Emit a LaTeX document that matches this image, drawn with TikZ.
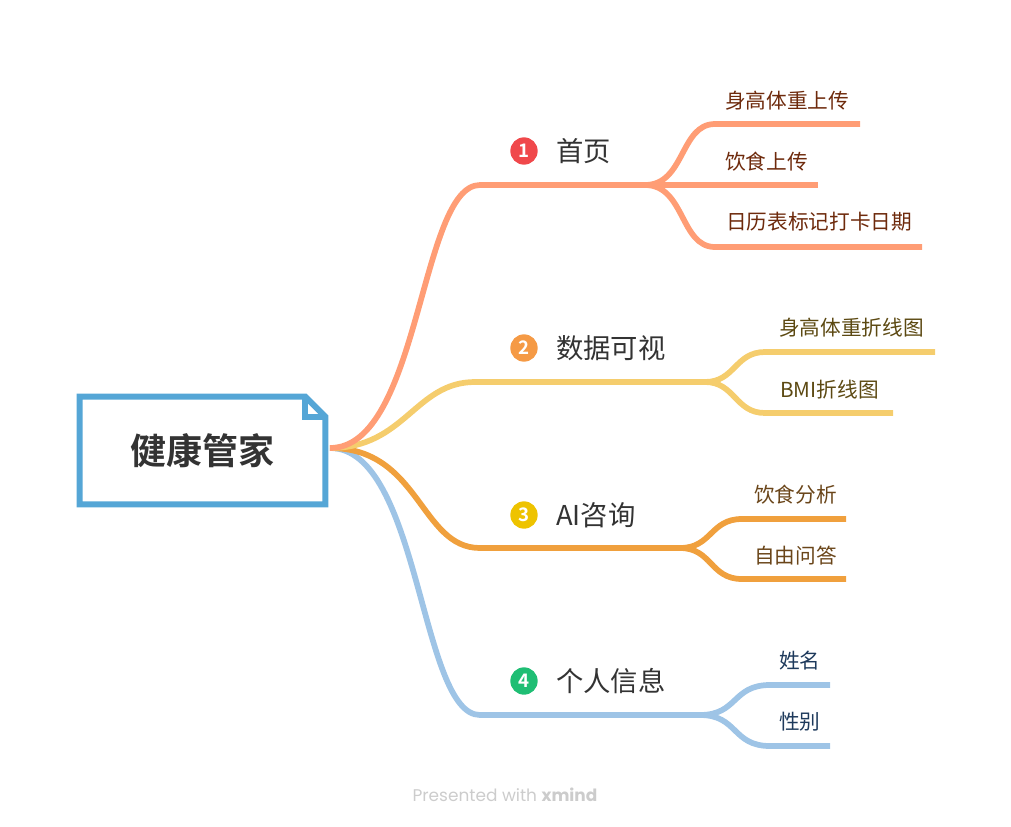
\documentclass[tikz,border=0pt]{standalone}
\usepackage{fontspec}
\setmainfont{Noto Sans CJK SC}[BoldFont={Noto Sans CJK SC Bold}]
\newfontfamily\footfont{Poppins}
\definecolor{rootblue}{HTML}{55A6D6}
\definecolor{lineA}{HTML}{FF9D75}
\definecolor{lineB}{HTML}{F5CD6D}
\definecolor{lineC}{HTML}{F0A03D}
\definecolor{lineD}{HTML}{9EC4E6}
\definecolor{dotA}{HTML}{F0484B}
\definecolor{dotB}{HTML}{F59A45}
\definecolor{dotC}{HTML}{EEC300}
\definecolor{dotD}{HTML}{1FBE74}
\definecolor{textA}{HTML}{6E2A0C}
\definecolor{textB}{HTML}{5C4912}
\definecolor{textC}{HTML}{6A4519}
\definecolor{textD}{HTML}{1E3A5C}

\begin{document}
\begin{tikzpicture}[x=0.75pt,y=-0.75pt,
    branch/.style={line width=4.3pt},
    dot/.style={circle, fill=#1, minimum size=20.5pt, inner sep=0pt, text=white, font=\bfseries\fontsize{14}{14}\selectfont},
    topic/.style={anchor=west, inner sep=0pt, text=black!80, font=\fontsize{20.5}{22}\selectfont},
    leaf/.style={anchor=west, inner sep=0pt, text=#1, font=\fontsize{15.5}{17}\selectfont}]
    \useasboundingbox (0,0) rectangle (1011,826);

    % root
    \node[minimum width=183.75pt, minimum height=80.25pt, inner sep=0pt, font=\bfseries\fontsize{27}{30}\selectfont, text=black!80] (root) at (202.5,450.5) {健康管家};
    \draw[rootblue, line width=4.5pt, line join=miter] (root.north west) -- ([xshift=-15pt]root.north east) -- ([yshift=-15pt]root.north east) -- (root.south east) -- (root.south west) -- cycle;
    \draw[rootblue, line width=4.5pt] ([xshift=-15pt]root.north east) -- ([xshift=-15pt,yshift=-15pt]root.north east) -- ([yshift=-15pt]root.north east);
    \coordinate (hub) at (330,448);

    % branch points
    \coordinate (b1) at (480,185);  \coordinate (s1) at (645,185);
    \coordinate (b2) at (475,382);  \coordinate (s2) at (705,382);
    \coordinate (b3) at (480,548);  \coordinate (s3) at (680,548);
    \coordinate (b4) at (480,715);  \coordinate (s4) at (700,715);

    % leaf ends
    \coordinate (l11) at (715,124); \coordinate (e11) at (860,124);
    \coordinate (e12) at (818,185);
    \coordinate (l13) at (715,247); \coordinate (e13) at (922,247);
    \coordinate (l21) at (765,352); \coordinate (e21) at (935,352);
    \coordinate (l22) at (765,413); \coordinate (e22) at (893,413);
    \coordinate (l31) at (742,519); \coordinate (e31) at (846,519);
    \coordinate (l32) at (742,579); \coordinate (e32) at (846,579);
    \coordinate (l41) at (770,685); \coordinate (e41) at (830,685);
    \coordinate (l42) at (770,746); \coordinate (e42) at (830,746);

    % trunks
    \draw[branch, lineD] (hub) .. controls +(90,0) and +(-60,0) .. (b4) -- (s4);
    \draw[branch, lineC] (hub) .. controls +(90,0) and +(-60,0) .. (b3) -- (s3);
    \draw[branch, lineB] (hub) .. controls +(75,0) and +(-60,0) .. (b2) -- (s2);
    \draw[branch, lineA] (hub) .. controls +(90,0) and +(-60,0) .. (b1) -- (s1);

    % leaves
    \draw[branch, lineA] (s1) .. controls +(40,0) and +(-35,0) .. (l11) -- (e11);
    \draw[branch, lineA] (s1) -- (e12);
    \draw[branch, lineA] (s1) .. controls +(40,0) and +(-35,0) .. (l13) -- (e13);
    \draw[branch, lineB] (s2) .. controls +(30,0) and +(-30,0) .. (l21) -- (e21);
    \draw[branch, lineB] (s2) .. controls +(30,0) and +(-30,0) .. (l22) -- (e22);
    \draw[branch, lineC] (s3) .. controls +(32,0) and +(-32,0) .. (l31) -- (e31);
    \draw[branch, lineC] (s3) .. controls +(32,0) and +(-32,0) .. (l32) -- (e32);
    \draw[branch, lineD] (s4) .. controls +(38,0) and +(-38,0) .. (l41) -- (e41);
    \draw[branch, lineD] (s4) .. controls +(38,0) and +(-38,0) .. (l42) -- (e42);

    % topics
    \node[dot=dotA] (n1) at (524,151) {1};
    \node[dot=dotB] (n2) at (524,348) {2};
    \node[dot=dotC] (n3) at (524,515) {3};
    \node[dot=dotD] (n4) at (524,681) {4};
    \node[topic] (t1) at (556,151) {首页};
    \node[topic] (t2) at (556,348) {数据可视};
    \node[topic] (t3) at (556,515) {AI咨询};
    \node[topic] (t4) at (556,681) {个人信息};

    \node[leaf=textA] (a1) at (725,101) {身高体重上传};
    \node[leaf=textA] (a2) at (725,162) {饮食上传};
    \node[leaf=textA] (a3) at (726,222) {日历表标记打卡日期};
    \node[leaf=textB] (c1) at (779,328) {身高体重折线图};
    \node[leaf=textB] (c2) at (780,390) {BMI折线图};
    \node[leaf=textC] (d1) at (754,495) {饮食分析};
    \node[leaf=textC] (d2) at (754,556) {自由问答};
    \node[leaf=textD] (f1) at (779,661) {姓名};
    \node[leaf=textD] (f2) at (779,722) {性别};

    \node[text=black!20, font=\footfont\fontsize{12.7}{14}\selectfont] (foot) at (505,795) {Presented with \textbf{xmind}};
\end{tikzpicture}
\end{document}
